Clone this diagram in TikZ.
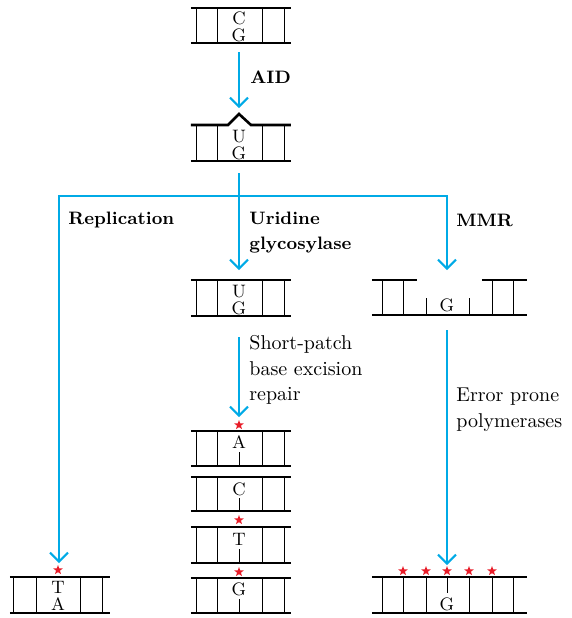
\documentclass[tikz,border=0pt]{standalone}
\usetikzlibrary{shapes.geometric,arrows.meta}
\definecolor{arrowblue}{RGB}{0,170,230}
\definecolor{starred}{RGB}{232,28,40}
\newcommand\ladder[5]{%
  \draw[strand] (#1,#3) -- (#2,#3);
  \draw[strand] (#1,#4) -- (#2,#4);
  \foreach \rx in {#5} \draw[rung] (\rx,#3) -- (\rx,#4);
}
\newcommand\pairfont{\fontsize{9}{8.2}\selectfont\lineskiplimit=-20pt\relax\lineskip=0pt\relax}
\begin{document}
\begin{tikzpicture}[x=0.5pt,y=-0.5pt,
  strand/.style={line width=1.3pt},
  rung/.style={line width=0.45pt},
  flow/.style={arrowblue,line width=1pt,line join=miter,-{Straight Barb[length=4.5pt,width=9pt,line width=1pt]}},
  base/.style={font=\fontsize{9}{10}\selectfont,inner sep=0pt},
  pair/.style={font=\pairfont,align=center,inner sep=0pt},
  lab/.style={font=\fontsize{9}{12.5}\selectfont\bfseries,anchor=west,align=left,inner sep=0pt},
  note/.style={font=\fontsize{10}{12.8}\selectfont,anchor=west,align=left,inner sep=0pt},
  mut/.style={star,star points=5,star point ratio=2.4,fill=starred,draw=none,inner sep=0pt,minimum size=5pt}]
\useasboundingbox (0,0) rectangle (572,618);

% top DNA C:G
\ladder{191}{291}{8}{43}{196,217,262,284}
\node[pair] (cg1) at (239,27) {C\\G};
\coordinate (d1b) at (239,52);
\coordinate (d2t) at (239,108);
\draw[flow] (d1b) -- (d2t);
\node[lab] (aid) at (250,77) {AID};

% U:G with bump
\draw[strand] (191,125) -- (228,125) -- (239,114) -- (251,125) -- (291,125);
\draw[strand] (191,161) -- (291,161);
\foreach \rx in {196,217,262,284} \draw[rung] (\rx,125) -- (\rx,161);
\node[pair] (ug2) at (239,145) {U\\G};

% branching
\coordinate (d2b) at (239,173);
\coordinate (split) at (239,196);
\coordinate (repEnd) at (59,563);
\coordinate (ungEnd) at (239,270);
\coordinate (mmrEnd) at (447,270);
\draw[arrowblue,line width=1pt] (d2b) -- (split);
\draw[flow] (split) -- (ungEnd);
\draw[flow] (split) -| (repEnd);
\draw[flow] (split) -| (mmrEnd);
\node[lab] (rep) at (68,220) {Replication};
\node[lab,anchor=north west] (ung) at (249,212) {Uridine\\glycosylase};
\node[lab] (mmr) at (456,220) {MMR};

% middle U:G
\ladder{191}{291}{280}{316}{196,217,262,284}
\node[pair] (ug3) at (239,300) {U\\G};
\coordinate (d3b) at (239,337);
\coordinate (d4t) at (239,417);
\draw[flow] (d3b) -- (d4t);
\node[note] (sp) at (249,370) {Short-patch\\base excision\\repair};

% MMR gapped
\draw[strand] (372,280) -- (417,280);
\draw[strand] (482,280) -- (527,280);
\draw[strand] (372,315) -- (527,315);
\foreach \rx in {382,403,492,513} \draw[rung] (\rx,280) -- (\rx,315);
\foreach \rx in {426,469} \draw[rung] (\rx,298) -- (\rx,315);
\node[base] (g5) at (447,305) {G};
\coordinate (d5b) at (447,330);
\coordinate (d6t) at (447,565);
\draw[flow] (d5b) -- (d6t);
\node[note] (ep) at (456,410) {Error prone\\polymerases};

% stack of four
\ladder{191}{291}{431}{466}{196,217,262,284}
\node[mut] (s1) at (239,425) {};
\node[base] (a4) at (239,442) {A};
\draw[rung] (239,452) -- (239,466);

\ladder{191}{291}{477}{511}{196,217,262,284}
\node[base] (c5) at (239,489) {C};
\draw[rung] (239,498) -- (239,511);

\ladder{191}{291}{527}{563}{196,217,262,284}
\node[mut] (s2) at (239,520) {};
\node[base] (t6) at (239,539) {T};
\draw[rung] (239,549) -- (239,563);

\ladder{191}{291}{578}{613}{196,217,262,284}
\node[mut] (s3) at (239,572) {};
\node[base] (g7) at (239,589) {G};
\draw[rung] (239,599) -- (239,613);

% left T:A
\ladder{10}{110}{577}{613}{13,36,80,102}
\node[mut] (s4) at (58,570) {};
\node[pair] (ta8) at (58,596) {T\\A};

% right bottom
\ladder{372}{527}{577}{613}{382,403,426,469,492,513}
\draw[rung] (447,577) -- (447,593);
\node[base] (g9) at (447,604) {G};
\foreach \sx/\nm in {403/m1,426/m2,447/m3,469/m4,492/m5}
  \node[mut] (\nm) at (\sx,571) {};
\end{tikzpicture}
\end{document}
